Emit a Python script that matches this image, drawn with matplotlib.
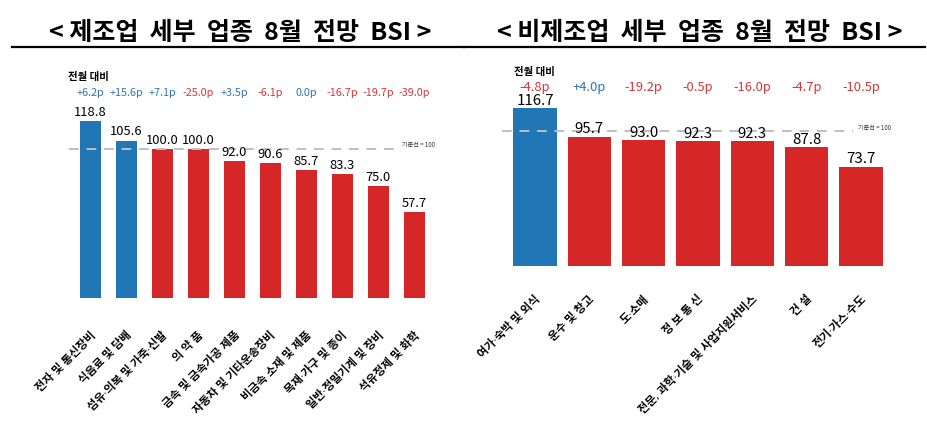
import matplotlib
matplotlib.use("Agg")
import matplotlib.pyplot as plt
from matplotlib.lines import Line2D

plt.rcParams['font.family'] = ['Noto Sans CJK KR', 'DejaVu Sans']

# ---------------- data ----------------
mfg_categories = ["전자 및 통신장비", "식음료 및 담배", "섬유·의복 및 가죽·신발", "의 약 품",
                  "금속 및 금속가공 제품", "자동차 및 기타운송장비", "비금속 소재 및 제품",
                  "목재·가구 및 종이", "일반·정밀기계 및 장비", "석유정제 및 화학"]
mfg_values = [118.8, 105.6, 100.0, 100.0, 92.0, 90.6, 85.7, 83.3, 75.0, 57.7]
mfg_changes = [6.2, 15.6, 7.1, -25.0, 3.5, -6.1, 0.0, -16.7, -19.7, -39.0]

svc_categories = ["여가·숙박 및 외식", "운수 및 창고", "도·소매", "정 보 통 신",
                  "전문, 과학·기술 및 사업지원서비스", "건 설", "전기·가스·수도"]
svc_values = [116.7, 95.7, 93.0, 92.3, 92.3, 87.8, 73.7]
svc_changes = [-4.8, 4.0, -19.2, -0.5, -16.0, -4.7, -10.5]

baseline = 100
titles = ["< 제조업  세부  업종  8월  전망  BSI >", "< 비제조업  세부  업종  8월  전망  BSI >"]

BLUE = "#2176B5"
RED = "#D62728"
CH_BLUE = "#2E75B6"
CH_RED = "#D7363A"

W, H = 928, 436
fig = plt.figure(figsize=(W / 100, H / 100), dpi=100)


def fx(px):
    return px / W


def fy(py):
    return 1 - py / H


def draw_panel(ax, cats, vals, chg, width, vfs, voff, cfs, tfs, line_x0, line_x1,
               label_pad, cy, hx, hy):
    colors = [BLUE if v > baseline else RED for v in vals]
    x = list(range(len(cats)))
    ax.bar(x, vals, width=width, color=colors, zorder=2)
    for xi, v in zip(x, vals):
        ax.text(xi, v + voff, f"{v:.1f}", ha="center", va="bottom", fontsize=vfs,
                color="black", zorder=4)
    for xi, c in zip(x, chg):
        s = (f"+{c:.1f}p" if c > 0 else f"{c:.1f}p")
        col = CH_BLUE if c >= 0 else CH_RED
        ax.text(xi, cy, s, ha="center", va="center", fontsize=cfs, color=col,
                clip_on=False)
    ax.text(hx, hy, "전월 대비", ha="left", va="center",
            fontsize=7.5, fontweight="bold", clip_on=False)
    ax.set_xticks(x)
    ax.set_xticklabels(cats, rotation=45, ha="right", rotation_mode="anchor",
                       fontsize=tfs, fontweight="bold",
                       family=['Noto Sans', 'Noto Sans CJK KR'])
    ax.tick_params(axis="x", length=0, pad=label_pad)
    ax.set_yticks([])
    for s in ax.spines.values():
        s.set_visible(False)
    ax.plot([line_x0, line_x1], [baseline, baseline], color="#BFBFBF", lw=1.4,
            dashes=(5, 4), zorder=3)
    ax.text(line_x1 + 0.1, baseline + 2.5, "기준선 = 100", fontsize=4.4, ha="left",
            va="center", color="#333333")


# left panel
axL = fig.add_axes([fx(61.7), 138 / H, fx(381.6), 216 / H])
axL.set_xlim(-0.8, 9.8)
axL.set_ylim(0, 145)
draw_panel(axL, mfg_categories, mfg_values, mfg_changes, 0.58, 9.3, 1.5, 7.8, 8.2,
           -0.6, 8.55, 23, 137.5, -0.62, 148.5)

# right panel
axR = fig.add_axes([fx(491.6), 170 / H, fx(412.8), 195.75 / H])
axR.set_xlim(-0.8, 6.8)
axR.set_ylim(0, 145)
draw_panel(axR, svc_categories, svc_values, svc_changes, 0.8, 10.8, 0.3, 9.3, 8.2,
           -0.6, 5.85, 20, 132.5, -0.38, 143.5)

# titles
fig.text(fx(240), fy(33), titles[0], ha="center", va="center", fontsize=18,
         fontweight="bold")
fig.text(fx(700), fy(33), titles[1], ha="center", va="center", fontsize=18,
         fontweight="bold")
fig.add_artist(Line2D([fx(12), fx(464)], [fy(47), fy(47)], color="black", lw=1.6))
fig.add_artist(Line2D([fx(464), fx(925)], [fy(47), fy(47)], color="black", lw=1.6))

fig.savefig("out.png", dpi=100, facecolor="white")
